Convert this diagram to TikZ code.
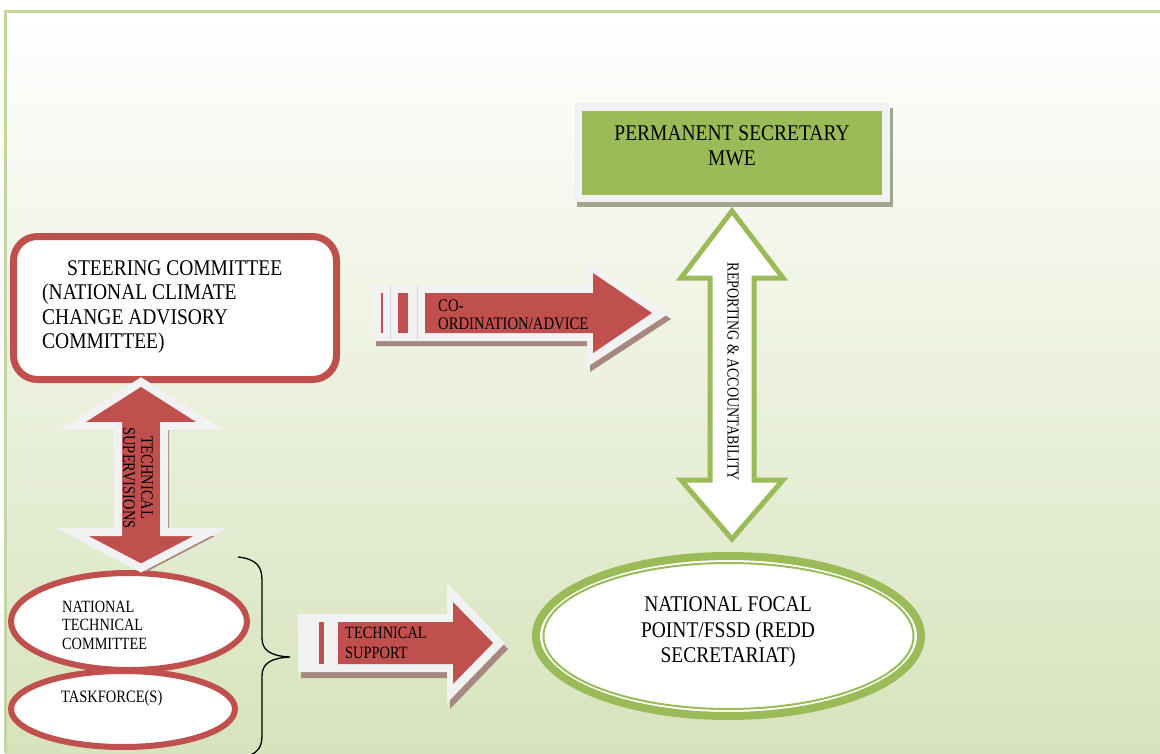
\documentclass[tikz,border=0pt]{standalone}
\usepackage{fontspec}
\setmainfont{Liberation Serif}
\usetikzlibrary{shapes.geometric}
\definecolor{ored}{HTML}{C0504D}
\definecolor{ogreen}{HTML}{9BBB59}
\definecolor{olight}{HTML}{F2F2F2}
\definecolor{odiv}{HTML}{D6D6D6}
\definecolor{rshadow}{RGB}{166,136,128}
\definecolor{gshadow}{RGB}{160,168,140}
\definecolor{frameline}{HTML}{C3D69B}
\definecolor{bgbot}{HTML}{D7E3BC}
\newcommand{\tallb}[1]{\scalebox{1}[1.15]{#1}}
\newcommand{\talls}[1]{\scalebox{1}[1.2]{#1}}
\begin{document}
\begin{tikzpicture}[x=1pt,y=-1pt,line join=miter,
  bigtext/.style={font=\fontsize{19.5}{25.3}\selectfont,inner sep=0pt},
  smalltext/.style={font=\fontsize{14.5}{18}\selectfont,inner sep=0pt},
  redbox/.style={draw=ored,fill=white,inner sep=0pt},
  redellipse/.style={ellipse,draw=ored,line width=6pt,fill=white,inner sep=0pt},
  whiteblock/.style={fill=olight},
  redblock/.style={fill=ored},
  brownshadow/.style={fill=rshadow}]
\useasboundingbox (0,0) rectangle (1160,753);
\fill[white] (0,0) rectangle (1160,753);
\shade[top color=white,bottom color=bgbot] (5,11) rectangle (1160,753);
\draw[frameline,line width=3pt] (5,753) -- (5,11) -- (1160,11);

% Permanent secretary
\fill[gshadow] (577,108) rectangle (893,207);
\node[fill=olight,minimum width=316,minimum height=99,inner sep=0pt] (psframe) at (732,152.5) {};
\node[fill=ogreen,minimum width=300,minimum height=84,inner sep=0pt] (ps) at (psframe.center) {};
\node[bigtext,align=center] (pstext) at (732,146) {\tallb{PERMANENT SECRETARY}\\\tallb{MWE}};

% Steering committee
\node[redbox,line width=7pt,rounded corners=24pt,minimum width=323,minimum height=143] (steer) at (175,308) {};
\node[inner sep=0pt,align=left,anchor=north west,font=\fontsize{19.5}{24.4}\selectfont] (steertext) at (42,260.5)
  {\hspace*{25pt}\tallb{STEERING COMMITTEE}\\\tallb{(NATIONAL CLIMATE}\\\tallb{CHANGE ADVISORY}\\\tallb{COMMITTEE)}};

% NTC and taskforce
\node[redellipse,minimum width=236,minimum height=97] (ntc) at (129,621.5) {};
\node[redellipse,minimum width=224,minimum height=76] (tf) at (123,709) {};
\node[inner sep=0pt,align=left,anchor=north west,font=\fontsize{14.3}{18.3}\selectfont] (ntctext) at (62,601)
  {\talls{NATIONAL}\\\talls{TECHNICAL}\\\talls{COMMITTEE}};
\node[smalltext,anchor=west] (tftext) at (61,698) {\talls{TASKFORCE(S)}};

% National focal point
\node[ellipse,draw=ogreen,line width=8pt,fill=white,minimum width=385,minimum height=160,inner sep=0pt] (focal) at (728.5,636) {};
\node[ellipse,draw=ogreen,line width=2pt,minimum width=370,minimum height=146,inner sep=0pt] (focalin) at (focal.center) {};
\node[bigtext,align=center] (focaltext) at (728,632) {\tallb{NATIONAL FOCAL}\\\tallb{POINT/FSSD (REDD}\\\tallb{SECRETARIAT)}};

% Coordination arrow
\fill[brownshadow,shift={(3,5)}] (373,285) -- (587,285) -- (587,261) -- (668,314) -- (587,367) -- (587,341) -- (373,341) -- cycle;
\fill[whiteblock] (373,285) -- (587,285) -- (587,261) -- (668,314) -- (587,367) -- (587,341) -- (373,341) -- cycle;
\draw[odiv,line width=0.8pt] (390,285) -- (390,341) (417,285) -- (417,341);
\fill[redblock] (381,293) rectangle (383,333);
\fill[redblock] (398,293) rectangle (408,333);
\fill[redblock] (425,293) -- (593,293) -- (593,273) -- (652,313) -- (593,353) -- (593,333) -- (425,333) -- cycle;
\node[inner sep=0pt,align=left,anchor=north west,font=\fontsize{14.7}{17.5}\selectfont] (cotext) at (438,300) {\talls{CO-}\\\talls{ORDINATION/ADVICE}};

% Technical support arrow
\fill[brownshadow,shift={(3,6)}] (298,614) -- (447,614) -- (447,583) -- (505,643) -- (447,703) -- (447,672) -- (298,672) -- cycle;
\fill[whiteblock] (298,614) -- (447,614) -- (447,583) -- (505,643) -- (447,703) -- (447,672) -- (298,672) -- cycle;
\fill[redblock] (319,622) rectangle (324,664);
\fill[redblock] (338,622) -- (453,622) -- (453,602) -- (493,643) -- (453,684) -- (453,664) -- (338,664) -- cycle;
\node[inner sep=0pt,align=left,anchor=north west,font=\fontsize{14.4}{20}\selectfont] (tstext) at (345,627) {\talls{TECHNICAL}\\\talls{SUPPORT}};

% Reporting & accountability arrow
\draw[ogreen,fill=white,line width=5pt] (732,211) -- (783,278) -- (754,278) -- (754,480) -- (783,480) -- (732,539) -- (681,480) -- (710,480) -- (710,278) -- (681,278) -- cycle;
\node[inner sep=0pt,rotate=-90,font=\fontsize{14}{17}\selectfont] (reptext) at (733,372) {\talls{REPORTING \& ACCOUNTABILITY}};

% Technical supervision arrow
\fill[brownshadow,shift={(5,4)}] (141,382) -- (210,426) -- (164,426) -- (164,532) -- (210,532) -- (141,568) -- (72,532) -- (118,532) -- (118,426) -- (72,426) -- cycle;
\draw[olight,fill=ored,line width=8pt] (141,382) -- (210,426) -- (164,426) -- (164,532) -- (210,532) -- (141,568) -- (72,532) -- (118,532) -- (118,426) -- (72,426) -- cycle;
\node[inner sep=0pt,rotate=-90,align=center,font=\fontsize{14.5}{18}\selectfont] (suptext) at (138,478) {\talls{TECHNICAL}\\\talls{SUPERVISIONS}};

% Brace
\draw[black,line width=1.3pt] (238,557) .. controls (256,559) and (262,566) .. (262,580) -- (262,638) .. controls (262,650) and (270,656) .. (290,657) .. controls (270,658) and (262,664) .. (262,676) -- (262,735) .. controls (262,747) and (258,752) .. (250,755);
\end{tikzpicture}
\end{document}
